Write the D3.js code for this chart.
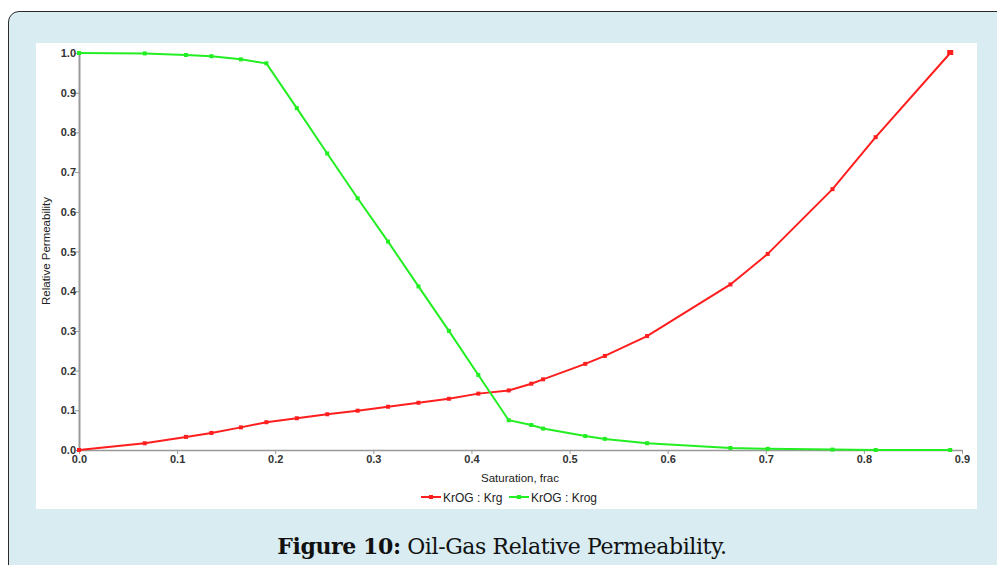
<!DOCTYPE html>
<html lang="en">
<head>
<meta charset="UTF-8">
<title>Oil-Gas Relative Permeability</title>
<script src="https://d3js.org/d3.v7.min.js"></script>
<style>
    html, body { margin: 0; padding: 0; background: #fff; overflow: hidden; }
    body { width: 997px; height: 565px; font-family: "Liberation Sans", Arial, sans-serif; }
    .frame {
        position: absolute; left: 8px; top: 11px; width: 1010px; height: 580px;
        background: #d8ecf2; border: 1.5px solid #2a2a2a; border-radius: 11px;
        box-sizing: border-box;
    }
    #chart { position: absolute; left: 0; top: 0; }
    .caption {
        position: absolute; left: 0; width: 1004px; top: 533px; text-align: center;
        font-family: "DejaVu Serif", "Liberation Serif", serif; font-size: 22px; color: #111;
        letter-spacing: -0.4px;
    }
    .tick text { font-family: "Liberation Sans", Arial, sans-serif; font-weight: bold; fill: #333; }
</style>
</head>
<body>
<div class="frame"></div>
<svg id="chart" width="997" height="565"></svg>
<div class="caption"><b>Figure 10:</b> Oil-Gas Relative Permeability.</div>

<script>
    // saturation values (frac)
    var saturation = [0.0, 0.067, 0.109, 0.135, 0.165, 0.191, 0.222, 0.253, 0.284, 0.315, 0.346,
                      0.377, 0.407, 0.438, 0.461, 0.473, 0.516, 0.536, 0.579, 0.664, 0.702,
                      0.768, 0.812, 0.888];
    var krg  = [0.0, 0.017, 0.033, 0.043, 0.057, 0.070, 0.080, 0.090, 0.099, 0.109, 0.119,
                0.129, 0.142, 0.150, 0.167, 0.178, 0.217, 0.237, 0.287, 0.417, 0.494,
                0.657, 0.788, 1.0];
    var krog = [1.0, 0.999, 0.995, 0.992, 0.984, 0.974, 0.861, 0.747, 0.634, 0.525, 0.412,
                0.300, 0.189, 0.075, 0.063, 0.054, 0.035, 0.028, 0.017, 0.005, 0.003,
                0.001, 0.0, 0.0];
    var xTicks = [0, 0.1, 0.2, 0.3, 0.4, 0.5, 0.6, 0.7, 0.8, 0.9];
    var yTicks = [0, 0.1, 0.2, 0.3, 0.4, 0.5, 0.6, 0.7, 0.8, 0.9, 1.0];
    var seriesNames = ['KrOG : Krg', 'KrOG : Krog'];
    var seriesColors = ['#ff1e1e', '#22ee22'];

    var svg = d3.select('#chart');

    // white plot panel
    svg.append('rect')
        .attr('x', 36).attr('y', 43)
        .attr('width', 941).attr('height', 466)
        .attr('fill', '#fff');

    var x = d3.scaleLinear().domain([0, 0.9]).range([79, 962]);
    var y = d3.scaleLinear().domain([0, 1]).range([450, 53]);

    var xAxis = d3.axisBottom(x).tickValues(xTicks).tickFormat(d3.format('.1f')).tickSize(4).tickSizeOuter(0);
    var yAxis = d3.axisLeft(y).tickValues(yTicks).tickFormat(d3.format('.1f')).tickSize(4).tickSizeOuter(0);

    var gx = svg.append('g').attr('transform', 'translate(0,450)').call(xAxis);
    gx.select('.domain').attr('stroke', '#999').attr('stroke-width', 1.5);
    gx.selectAll('.tick line').attr('stroke', '#999');
    gx.selectAll('.tick text').attr('font-size', 11).attr('dy', '0.55em');

    var gy = svg.append('g').attr('transform', 'translate(79,0)').call(yAxis);
    gy.select('.domain').attr('stroke', '#999').attr('stroke-width', 2);
    gy.selectAll('.tick line').attr('stroke', '#999');
    gy.selectAll('.tick text').attr('font-size', 11).attr('x', -3);

    // axis titles
    svg.append('text')
        .attr('x', 520).attr('y', 482)
        .attr('text-anchor', 'middle')
        .attr('font-size', 11.5).attr('fill', '#222')
        .text('Saturation, frac');
    svg.append('text')
        .attr('transform', 'translate(50,251) rotate(-90)')
        .attr('text-anchor', 'middle')
        .attr('font-size', 11.5).attr('fill', '#222')
        .text('Relative Permeability');

    var line = d3.line()
        .x(function(d){ return x(d[0]); })
        .y(function(d){ return y(d[1]); });

    [krg, krog].forEach(function(vals, i){
        var pts = saturation.map(function(s, j){ return [s, vals[j]]; });
        svg.append('path')
            .datum(pts)
            .attr('d', line)
            .attr('fill', 'none')
            .attr('stroke', seriesColors[i])
            .attr('stroke-width', 2);
        svg.append('g').selectAll('rect')
            .data(pts)
            .enter()
            .append('rect')
            .attr('x', function(d){ return x(d[0]) - 2; })
            .attr('y', function(d){ return y(d[1]) - 2; })
            .attr('width', 4).attr('height', 4)
            .attr('fill', seriesColors[i]);
    });
    // last red point is a bit bigger
    svg.append('rect')
        .attr('x', x(saturation[saturation.length - 1]) - 3)
        .attr('y', y(krg[krg.length - 1]) - 3)
        .attr('width', 6).attr('height', 5)
        .attr('fill', seriesColors[0]);

    // legend
    var legendX = [421, 509];
    seriesNames.forEach(function(name, i){
        var g = svg.append('g').attr('transform', 'translate(' + legendX[i] + ',497)');
        g.append('line').attr('x1', 0).attr('x2', 20).attr('y1', 0).attr('y2', 0)
            .attr('stroke', seriesColors[i]).attr('stroke-width', 2);
        g.append('rect').attr('x', 8).attr('y', -2).attr('width', 4).attr('height', 4)
            .attr('fill', seriesColors[i]);
        g.append('text').attr('x', 22).attr('y', 4.5)
            .attr('font-size', 12).attr('fill', '#222')
            .text(name);
    });
</script>
</body>
</html>
